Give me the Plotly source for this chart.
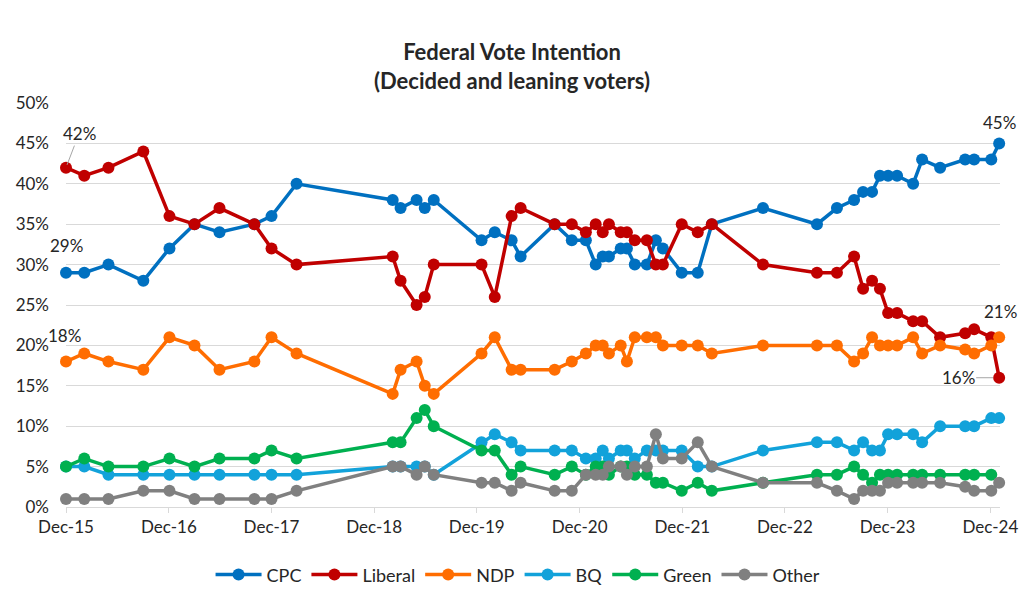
import plotly.graph_objects as go

dates = [
    "2015-12-01", "2016-02-04", "2016-04-30", "2016-09-01", "2016-12-03",
    "2017-03-02", "2017-05-30", "2017-10-01", "2017-12-01", "2018-02-28",
    "2019-02-05", "2019-03-05", "2019-05-01", "2019-05-30", "2019-07-01",
    "2019-12-18", "2020-02-03", "2020-04-03", "2020-05-05", "2020-09-03",
    "2020-11-03", "2020-12-23", "2021-01-27", "2021-02-21", "2021-03-15",
    "2021-04-26", "2021-05-18", "2021-06-15", "2021-07-28", "2021-08-29",
    "2021-09-23", "2021-11-29", "2022-01-25", "2022-03-16", "2022-09-14",
    "2023-03-25", "2023-06-04", "2023-08-04", "2023-09-05", "2023-10-07",
    "2023-11-04", "2023-12-03", "2024-01-04", "2024-03-01", "2024-04-02",
    "2024-06-05", "2024-09-02", "2024-10-04", "2024-12-04", "2025-01-01",
]

cpc = [29, 29, 30, 28, 32, 35, 34, 35, 36, 40,
       38, 37, 38, 37, 38, 33, 34, 33, 31, 35,
       33, 33, 30, 31, 31, 32, 32, 30, 30, 33,
       32, 29, 29, 35, 37, 35, 37, 38, 39, 39,
       41, 41, 41, 40, 43, 42, 43, 43, 43, 45]
liberal = [42, 41, 42, 44, 36, 35, 37, 35, 32, 30,
           31, 28, 25, 26, 30, 30, 26, 36, 37, 35,
           35, 34, 35, 34, 35, 34, 34, 33, 33, 30,
           30, 35, 34, 35, 30, 29, 29, 31, 27, 28,
           27, 24, 24, 23, 23, 21, 21.5, 22, 21, 16]
ndp = [18, 19, 18, 17, 21, 20, 17, 18, 21, 19,
       14, 17, 18, 15, 14, 19, 21, 17, 17, 17,
       18, 19, 20, 20, 19, 20, 18, 21, 21, 21,
       20, 20, 20, 19, 20, 20, 20, 18, 19, 21,
       20, 20, 20, 21, 19, 20, 19.5, 19, 20, 21]
bq = [5, 5, 4, 4, 4, 4, 4, 4, 4, 4,
      5, 5, 5, 5, 4, 8, 9, 8, 7, 7,
      7, 6, 6, 7, 6, 7, 7, 6, 7, 7,
      7, 7, 5, 5, 7, 8, 8, 7, 8, 7,
      7, 9, 9, 9, 8, 10, 10, 10, 11, 11]
green = [5, 6, 5, 5, 6, 5, 6, 6, 7, 6,
         8, 8, 11, 12, 10, 7, 7, 4, 5, 4,
         5, 4, 5, 5, 4, 5, 5, 4, 4, 3,
         3, 2, 3, 2, 3, 4, 4, 5, 4, 3,
         4, 4, 4, 4, 4, 4, 4, 4, 4, None]
other = [1, 1, 1, 2, 2, 1, 1, 1, 1, 2,
         5, 5, 4, 5, 4, 3, 3, 2, 3, 2,
         2, 4, 4, 4, 5, 5, 4, 5, 5, 9,
         6, 6, 8, 5, 3, 3, 2, 1, 2, 2,
         2, 3, 3, 3, 3, 3, 2.5, 2, 2, 3]

series_names = ["CPC", "Liberal", "NDP", "BQ", "Green", "Other"]
series_values = [cpc, liberal, ndp, bq, green, other]
colors = ["#0070C0", "#C00000", "#FF6D01", "#12A2DA", "#00B050", "#808080"]

FONT = "Lato"
TXT = "#262626"

fig = go.Figure()
for name, vals, col in zip(series_names, series_values, colors):
    fig.add_trace(go.Scatter(
        x=dates,
        y=[None if v is None else v / 100 for v in vals],
        name=name,
        mode="lines+markers",
        line=dict(color=col, width=3.5),
        marker=dict(color=col, size=12),
        cliponaxis=False,
        connectgaps=False,
    ))

ann_font = dict(family=FONT, size=17, color=TXT)
annotations = [
    dict(x=dates[0], y=liberal[0] / 100, text="42%", showarrow=True,
         ax=13, ay=-34, arrowhead=0, arrowwidth=1, arrowcolor="#A6A6A6",
         standoff=3, font=ann_font),
    dict(x=dates[0], y=cpc[0] / 100, text="29%", showarrow=False,
         yshift=27, font=ann_font),
    dict(x=dates[0], y=ndp[0] / 100, text="18%", showarrow=False,
         yshift=26, xshift=-2, font=ann_font),
    dict(x=dates[-1], y=cpc[-1] / 100, text="45%", showarrow=False,
         yshift=21, font=ann_font),
    dict(x=dates[-1], y=ndp[-1] / 100, text="21%", showarrow=False,
         yshift=26, xshift=1, font=ann_font),
    dict(x=dates[-1], y=liberal[-1] / 100, text="16%", showarrow=True,
         ax=-41, ay=0, arrowhead=0, arrowwidth=1, arrowcolor="#A6A6A6",
         standoff=6, font=ann_font),
]

fig.update_layout(
    width=1024, height=608,
    paper_bgcolor="white", plot_bgcolor="white",
    margin=dict(l=66, r=24, t=103, b=101, autoexpand=False),
    font=dict(family=FONT, size=17, color=TXT),
    title=dict(
        text="<b>Federal Vote Intention<br>(Decided and leaning voters)</b>",
        x=0.5, xanchor="center", y=1 - 60.0 / 608, yref="container",
        yanchor="middle",
        font=dict(family=FONT, size=22, color=TXT),
    ),
    showlegend=True,
    legend=dict(orientation="h", x=0.484, xanchor="center",
                y=-0.168, yanchor="middle", itemwidth=46,
                font=dict(family=FONT, size=18, color=TXT)),
    annotations=annotations,
)

fig.update_xaxes(
    type="date",
    range=["2015-12-01", "2025-01-04"],
    tick0="2015-12-01", dtick="M12", tickformat="%b-%y",
    tickangle=0, ticklabeloverflow="allow",
    showgrid=False, showline=True, linecolor="#D9D9D9", linewidth=1,
    ticks="outside", ticklen=5, tickcolor="#D9D9D9",
    tickfont=dict(family=FONT, size=17, color=TXT),
    zeroline=False,
)
fig.update_yaxes(
    range=[0, 0.5], dtick=0.05, tickformat=".0%",
    showgrid=True, gridcolor="#D9D9D9", gridwidth=1,
    zeroline=False, showline=False, ticks="",
    ticklabelstandoff=16,
    tickfont=dict(family=FONT, size=17, color=TXT),
)

fig.write_html("out.html")
